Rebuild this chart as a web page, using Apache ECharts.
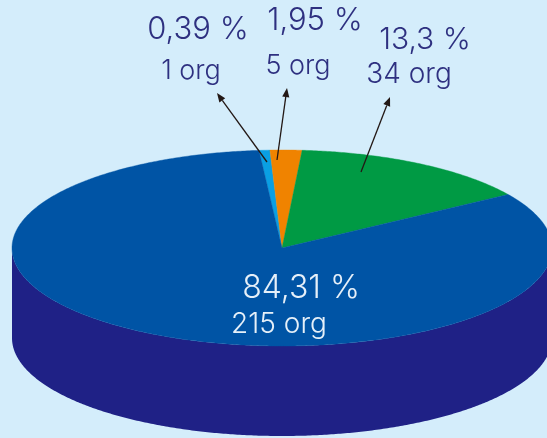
<!DOCTYPE html>
<html><head><meta charset="utf-8">
<style>html,body{margin:0;padding:0;background:#d4edfb}#c{width:547px;height:438px}</style>
<script src="https://cdn.jsdelivr.net/npm/echarts@6/dist/echarts.min.js"></script>
</head><body><div id="c"></div>
<script>
// Slice order clockwise from the light-blue slice
const sliceNames = ['1 org', '5 org', '34 org', '215 org'];
const percentLabels = ['0,39 %', '1,95 %', '13,3 %', '84,31 %'];
// Share of the full circle each slice occupies in the picture (percent)
const drawnShares = [0.65, 1.9, 14.6, 82.85];
const sliceColors = ['#0a9fe3', '#f08300', '#009a44', '#0054a5'];
const startDeg = -4.9;
const wallDepth = 0.918;

const chart = echarts.init(document.getElementById('c'), null, {renderer: 'canvas'});
const total = drawnShares.reduce((a, b) => a + b, 0);
const rad = d => d * Math.PI / 180;

function sliceItem(params, api) {
  const i = params.dataIndex;
  let from = startDeg;
  for (let k = 0; k < i; k++) from += drawnShares[k] / total * 360;
  const to = from + api.value(0) / total * 360;
  const pts = [api.coord([0, 0])];
  const n = Math.max(2, Math.ceil((to - from) / 0.5));
  for (let k = 0; k <= n; k++) {
    const t = rad(from + (to - from) * k / n);
    pts.push(api.coord([Math.sin(t), Math.cos(t)]));
  }
  return {type: 'polygon', shape: {points: pts},
    style: {fill: sliceColors[i], stroke: sliceColors[i], lineWidth: 0.4}};
}
function wallItem(params, api) {
  const pts = [];
  for (let d = 90; d <= 270; d += 0.5) pts.push(api.coord([Math.sin(rad(d)), Math.cos(rad(d))]));
  for (let d = 270; d >= 90; d -= 0.5) pts.push(api.coord([Math.sin(rad(d)), Math.cos(rad(d)) - wallDepth]));
  return {type: 'polygon', shape: {points: pts}, style: {fill: '#1f2186'}};
}

const dark = '#2e3080', light = '#e6f0f9', fam = 'Inter, "Open Sans", sans-serif';
function txt(s, cx, cy, size, color) {
  return {type: 'text', x: cx, y: cy, z: 100, silent: true,
    style: {text: s, fill: color, font: '300 ' + size + 'px ' + fam, align: 'center', verticalAlign: 'middle'}};
}
function arrow(x1, y1, x2, y2) {
  const a = Math.atan2(y2 - y1, x2 - x1), L = 9, W = 3.6;
  const bx = x2 - L * Math.cos(a), by = y2 - L * Math.sin(a);
  return [
    {type: 'line', z: 100, silent: true, shape: {x1, y1, x2: bx, y2: by}, style: {stroke: '#231815', lineWidth: 1.3}},
    {type: 'polygon', z: 100, silent: true, shape: {points: [[x2, y2],
      [bx + W * Math.sin(a), by - W * Math.cos(a)], [bx - W * Math.sin(a), by + W * Math.cos(a)]]},
      style: {fill: '#231815'}}
  ];
}

chart.setOption({
  animation: false,
  backgroundColor: '#d4edfb',
  grid: {left: 12, top: 150, width: 540, height: 286, outerBoundsMode: 'none'},
  xAxis: {type: 'value', min: -1, max: 1, show: false},
  yAxis: {type: 'value', min: -1.918, max: 1, show: false},
  series: [
    {type: 'custom', silent: true, clip: false, data: [[1]], renderItem: wallItem},
    {type: 'custom', silent: true, clip: false, data: drawnShares.map(v => [v]), renderItem: sliceItem}
  ],
  graphic: {elements: [
    ...arrow(267, 162, 217, 93),
    ...arrow(277, 160, 287, 88),
    ...arrow(361, 172, 390, 97),
    txt(percentLabels[0], 198, 30, 31, dark),
    txt(sliceNames[0], 191, 71, 27, dark),
    txt(percentLabels[1], 315, 21, 31, dark),
    txt(sliceNames[1], 298, 66, 27, dark),
    txt(percentLabels[2], 425, 40, 30, dark),
    txt(sliceNames[2], 409, 75, 28, dark),
    txt(percentLabels[3], 301, 288, 32, light),
    txt(sliceNames[3], 279, 325, 28, light)
  ]}
});
</script></body></html>
